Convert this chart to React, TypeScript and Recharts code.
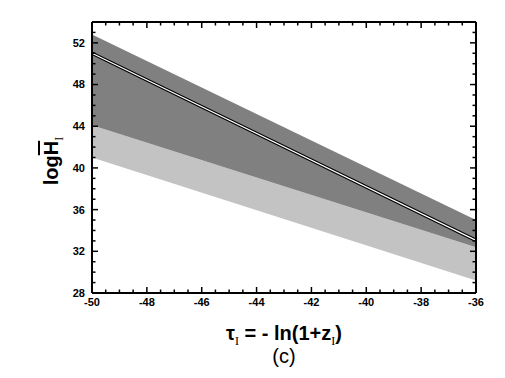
import React from "react";
import { ComposedChart, Area, Line, XAxis, YAxis } from "recharts";

// tau_I values at the two ends of the plotted range
const tau = [-50, -36];
// light grey band (lower part)
const lightLow = [41.0, 29.2];
const lightHigh = [44.1, 32.4];
// dark grey band
const darkLow = [44.1, 32.4];
const darkHigh = [52.8, 35.0];
// double black line
const meanLine = [51.0, 33.05];

const xTicks = [-50, -48, -46, -44, -42, -40, -38, -36];
const yTicks = [28, 32, 36, 40, 44, 48, 52];
const xAll = Array.from({ length: 29 }, (_, i) => -50 + i * 0.5);
const yAll = Array.from({ length: 27 }, (_, i) => 28 + i);

const data = tau.map((x, i) => ({
  x,
  light: [lightLow[i], lightHigh[i]],
  dark: [darkLow[i], darkHigh[i]],
  mean: meanLine[i],
}));

const font = "'Liberation Sans', Arial, sans-serif";
const frame = { stroke: "#000", strokeWidth: 2 };
const MAJ = 6;
const MIN = 3.5;

// bottom: label below, tick mark pointing up into the plot
const BottomTick = (p: any) => {
  const v = p.payload.value;
  const major = xTicks.includes(v);
  const y0 = p.y - 5;
  return (
    <g>
      <line x1={p.x} x2={p.x} y1={y0} y2={y0 - (major ? MAJ : MIN)} stroke="#000" strokeWidth={1.5} />
      {major && (
        <text x={p.x} y={p.y} dy="0.71em" textAnchor="middle" fontFamily={font} fontSize={11} fontWeight="bold" fill="#000">
          {v}
        </text>
      )}
    </g>
  );
};

// left: label on the left, tick mark pointing right into the plot
const LeftTick = (p: any) => {
  const v = p.payload.value;
  const major = yTicks.includes(v);
  const x0 = p.x + 7;
  return (
    <g>
      <line x1={x0} x2={x0 + (major ? MAJ : MIN)} y1={p.y} y2={p.y} stroke="#000" strokeWidth={1.5} />
      {major && (
        <text x={p.x} y={p.y} dy="0.355em" textAnchor="end" fontFamily={font} fontSize={11} fontWeight="bold" fill="#000">
          {v}
        </text>
      )}
    </g>
  );
};

const TopTick = (p: any) => {
  const major = xTicks.includes(p.payload.value);
  return <line x1={p.x} x2={p.x} y1={p.y} y2={p.y + (major ? MAJ : MIN)} stroke="#000" strokeWidth={1.5} />;
};

const RightTick = (p: any) => {
  const major = yTicks.includes(p.payload.value);
  return <line x1={p.x} x2={p.x - (major ? MAJ : MIN)} y1={p.y} y2={p.y} stroke="#000" strokeWidth={1.5} />;
};

const YTitle = () => (
  <text
    transform="translate(50,153) rotate(-90)"
    textAnchor="middle"
    fontFamily={font}
    fontWeight="bold"
    fontSize={20}
    fill="#000"
  >
    log
    <tspan style={{ textDecoration: "overline" }}>H</tspan>
    <tspan fontFamily="'Liberation Serif', serif" fontWeight="normal" fontSize={12} dy={5}>
      I
    </tspan>
  </text>
);

const XTitle = () => (
  <g>
    <text x={276} y={332} textAnchor="middle" fontFamily={font} fontWeight="bold" fontSize={20} fill="#000">
      τ
      <tspan fontFamily="'Liberation Serif', serif" fontWeight="normal" fontSize={12} dy={5}>
        I
      </tspan>
      <tspan dy={-5}> = - ln(1+z</tspan>
      <tspan fontFamily="'Liberation Serif', serif" fontWeight="normal" fontSize={12} dy={5}>
        I
      </tspan>
      <tspan dy={-5}>)</tspan>
    </text>
    <text x={276} y={355} textAnchor="middle" fontFamily={font} fontSize={20} fill="#000">
      (c)
    </text>
  </g>
);

export default function App() {
  return (
    <ComposedChart
      width={490}
      height={362}
      data={data}
      margin={{ top: 14, right: 22, left: 0, bottom: 0 }}
    >
      <XAxis
        xAxisId="main"
        type="number"
        dataKey="x"
        domain={[-50, -36]}
        ticks={xAll}
        interval={0}
        tickLine={false}
        tickSize={0}
        tickMargin={5}
        tick={BottomTick}
        axisLine={frame}
        height={77}
        label={<XTitle />}
      />
      <XAxis
        xAxisId="top"
        type="number"
        dataKey="x"
        domain={[-50, -36]}
        ticks={xAll}
        interval={0}
        orientation="top"
        mirror
        tickLine={false}
        tickSize={0}
        tickMargin={0}
        tick={TopTick}
        axisLine={frame}
      />
      <YAxis
        yAxisId="main"
        type="number"
        domain={[28, 54]}
        ticks={yAll}
        interval={0}
        tickLine={false}
        tickSize={0}
        tickMargin={7}
        tick={LeftTick}
        axisLine={frame}
        width={84}
        label={<YTitle />}
      />
      <YAxis
        yAxisId="right"
        type="number"
        domain={[28, 54]}
        ticks={yAll}
        interval={0}
        orientation="right"
        mirror
        tickLine={false}
        tickSize={0}
        tickMargin={0}
        tick={RightTick}
        axisLine={frame}
      />
      <Area xAxisId="main" yAxisId="main" type="linear" dataKey="light" fill="#c3c3c3" fillOpacity={1} stroke="none" isAnimationActive={false} />
      <Area xAxisId="main" yAxisId="main" type="linear" dataKey="dark" fill="#808080" fillOpacity={1} stroke="none" isAnimationActive={false} />
      <Line xAxisId="main" yAxisId="main" type="linear" dataKey="mean" stroke="#000" strokeWidth={3.5} dot={false} isAnimationActive={false} />
      <Line xAxisId="main" yAxisId="main" type="linear" dataKey="mean" stroke="#fff" strokeWidth={1.2} dot={false} isAnimationActive={false} />
      <Line xAxisId="top" yAxisId="right" dataKey="mean" stroke="none" dot={false} activeDot={false} isAnimationActive={false} />
    </ComposedChart>
  );
}
